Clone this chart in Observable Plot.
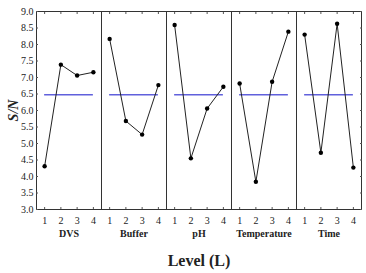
<!DOCTYPE html>
<html>
<head>
<meta charset="utf-8">
<script src="https://cdn.jsdelivr.net/npm/d3@7"></script>
<script src="https://cdn.jsdelivr.net/npm/@observablehq/plot@0.6"></script>
<style>
  html, body { margin: 0; padding: 0; background: #fff; }
</style>
</head>
<body>
<div id="chart"></div>
<script>
const factors = ["DVS", "Buffer", "pH", "Temperature", "Time"];
const levels = [1, 2, 3, 4];
const snDVS = [4.31, 7.39, 7.06, 7.16];
const snBuffer = [8.17, 5.68, 5.27, 6.77];
const snPH = [8.59, 4.55, 6.06, 6.72];
const snTemperature = [6.82, 3.84, 6.87, 8.39];
const snTime = [8.30, 4.72, 8.63, 4.27];
const meanSN = 6.48;
const yTicks = [3.0, 3.5, 4.0, 4.5, 5.0, 5.5, 6.0, 6.5, 7.0, 7.5, 8.0, 8.5, 9.0];

const series = [snDVS, snBuffer, snPH, snTemperature, snTime];
const data = [];
factors.forEach((f, i) => levels.forEach((l, j) => data.push({factor: f, level: l, sn: series[i][j]})));
const means = factors.map(f => ({factor: f, mean: meanSN}));

const font = "Liberation Serif, Times New Roman, serif";

const plot = Plot.plot({
  width: 366,
  height: 273,
  marginLeft: 36,
  marginRight: 5,
  marginTop: 11,
  marginBottom: 64,
  style: {fontFamily: font, fontSize: "10px", color: "#222", background: "#fff"},
  fx: {domain: factors, padding: 0, label: null},
  x: {domain: [0.5, 4.5]},
  y: {domain: [3, 9]},
  marks: [
    Plot.frame({stroke: "#333", strokeWidth: 1}),
    Plot.axisY({anchor: "left", ticks: yTicks, tickSize: 0, tickPadding: 3, tickFormat: d3.format(".1f"),
      label: "S/N", labelAnchor: "center", labelArrow: "none", labelOffset: 28}),
    Plot.axisY({anchor: "left", ticks: yTicks, tickSize: -2, text: null, label: null, stroke: "#555"}),
    Plot.axisY({anchor: "right", ticks: yTicks, tickSize: -2, text: null, label: null, stroke: "#555"}),
    Plot.axisX({anchor: "bottom", ticks: levels, tickSize: 0, tickPadding: 7, tickFormat: d3.format("d"), label: null}),
    Plot.axisX({anchor: "bottom", ticks: levels, tickSize: -2, text: null, label: null, stroke: "#555"}),
    Plot.axisX({anchor: "top", ticks: levels, tickSize: -2, text: null, label: null, stroke: "#555"}),
    Plot.axisFx({anchor: "bottom", tickSize: 0, tickPadding: 20, label: "Level (L)", labelAnchor: "center", labelArrow: "none", labelOffset: 56}),
    Plot.ruleY(means, {fx: "factor", y: "mean", x1: 1, x2: 4, stroke: "#6060dc", strokeWidth: 1.5}),
    Plot.line(data, {fx: "factor", x: "level", y: "sn", stroke: "#222", strokeWidth: 1}),
    Plot.dot(data, {fx: "factor", x: "level", y: "sn", r: 2.2, fill: "#000", stroke: "none"})
  ]
});

const svg = d3.select(plot);
svg.selectAll('g[aria-label="fx-axis tick label"] text').attr("font-weight", "bold").attr("font-size", "10px");
svg.selectAll('g[aria-label="fx-axis label"] text').attr("font-weight", "bold").attr("font-size", "16px");
svg.selectAll('g[aria-label="y-axis label"] text')
  .attr("font-weight", "bold").attr("font-style", "italic").attr("font-size", "14px")
  .each(function() { this.textContent = this.textContent.replace(/\s*[↑→↓←]\s*/g, "").trim(); });
document.getElementById("chart").appendChild(plot);
</script>
</body>
</html>
